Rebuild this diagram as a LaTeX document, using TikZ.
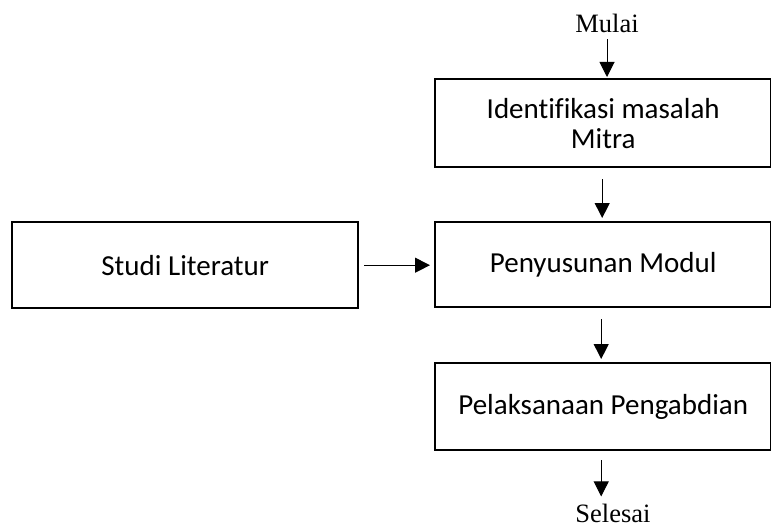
\documentclass[tikz,border=0pt]{standalone}
\usepackage{fontspec}
\setmainfont{Liberation Serif}
\newfontfamily\boxfont[Ligatures=NoCommon]{Carlito}
\usetikzlibrary{arrows.meta}
\begin{document}
\begin{tikzpicture}[x=1pt,y=-1pt,
  stepbox/.style={draw,line width=2.4pt,minimum width=336pt,anchor=north west,
    font=\boxfont\fontsize{29}{30}\selectfont,align=center,inner sep=0pt},
  term/.style={font=\fontsize{26.5}{30}\selectfont,inner sep=0pt,anchor=base},
  arr/.style={line width=1pt,-{Triangle[width=15pt,length=15pt]}}]
\useasboundingbox (0,0) rectangle (771,527);
\node[stepbox,minimum height=88pt] (box1) at (434,78) {Identifikasi masalah\\Mitra};
\node[stepbox,minimum height=85pt] (box2) at (434,221) {Penyusunan Modul};
\node[stepbox,minimum height=87pt] (box3) at (434,362) {Pelaksanaan Pengabdian};
\node[stepbox,minimum width=346pt,minimum height=86pt] (studi) at (11,221) {Studi Literatur};
\node[term] (mulai) at (607,33) {Mulai};
\node[term] (selesai) at (613,522) {Selesai};
\draw[arr,shorten <=6pt,shorten >=1pt] (mulai.south) -- (mulai.south |- box1.north);
\draw[arr,shorten <=11pt,shorten >=3pt] ([xshift=-1pt]box1.south) -- ([xshift=-1pt]box2.north);
\draw[arr,shorten <=11pt,shorten >=3pt] ([xshift=-2pt]box2.south) -- ([xshift=-2pt]box3.north);
\draw[arr,shorten <=9pt,shorten >=7pt] ([xshift=-2pt]box3.south) -- ([xshift=-2pt]box3.south |- selesai.north);
\draw[arr,shorten <=5pt,shorten >=4pt] (studi.east) -- (studi.east -| box2.west);
\end{tikzpicture}
\end{document}
